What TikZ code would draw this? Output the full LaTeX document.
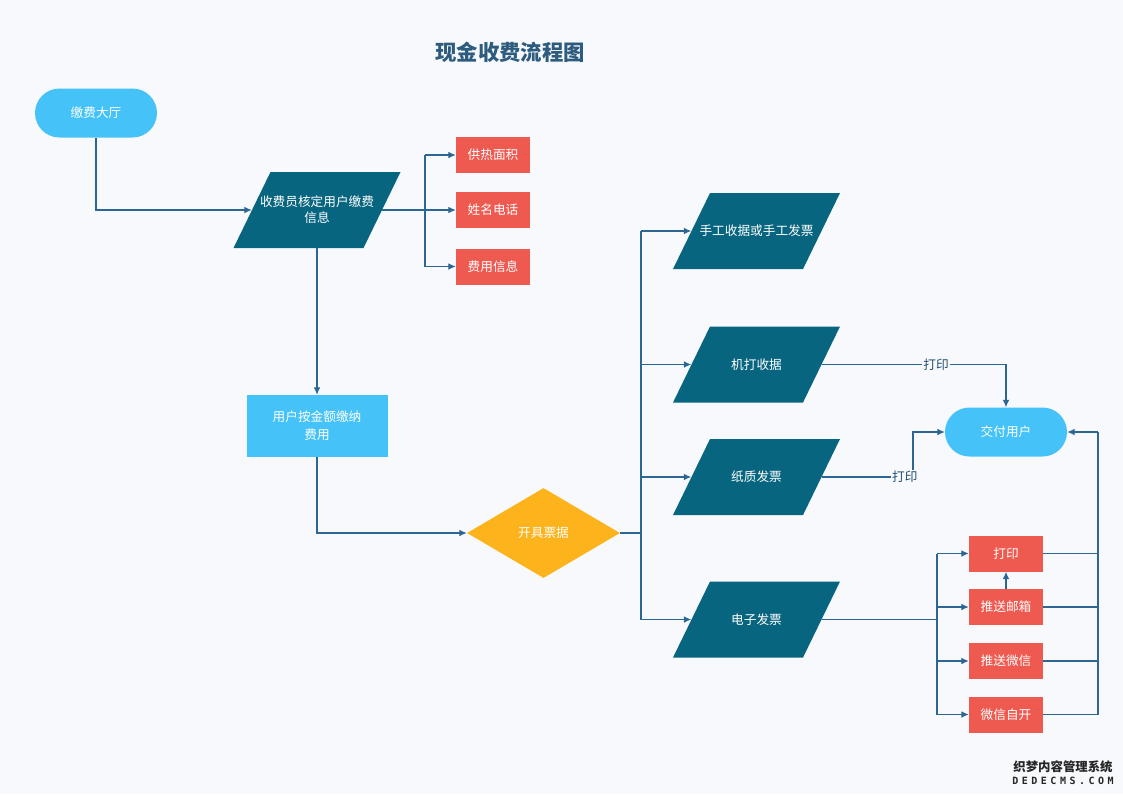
\documentclass[tikz,border=0pt]{standalone}
\usepackage{fontspec}
\setmainfont{Noto Sans CJK SC}
\newfontfamily\wmmono{DejaVu Sans Mono}[LetterSpace=35]
\usetikzlibrary{arrows.meta,shapes.geometric,shapes.misc}
\definecolor{bgcol}{HTML}{F7F9FD}
\definecolor{skyc}{HTML}{45C3F8}
\definecolor{tealc}{HTML}{08657F}
\definecolor{redc}{HTML}{EF5A50}
\definecolor{amberc}{HTML}{FDB31B}
\definecolor{linec}{HTML}{2C6692}
\definecolor{titlec}{HTML}{2D5C7F}
\definecolor{lblc}{HTML}{24506E}
\newcommand\paranode[4]{%
  \fill[tealc] ({#2-46.5},{#3-38}) -- ({#2+83.5},{#3-38}) -- ({#2+46.5},{#3+38}) -- ({#2-83.5},{#3+38}) -- cycle;
  \node[ptext] (#1) at (#2,#3) {#4};}
\begin{document}
\begin{tikzpicture}[x=0.75pt,y=-0.75pt,
  txt/.style={text=white, font=\fontsize{9.5}{12}\selectfont, align=center},
  stadium/.style={rounded rectangle, fill=skyc, minimum width=91.5pt, minimum height=36.75pt, inner sep=0pt, txt},
  redbox/.style={rectangle, fill=redc, minimum width=55.5pt, minimum height=27pt, inner sep=0pt, txt},
  bluebox/.style={rectangle, fill=skyc, minimum width=105.75pt, minimum height=46.5pt, inner sep=0pt, txt, font=\fontsize{9.5}{13.5}\selectfont},
  dia/.style={diamond, fill=amberc, minimum width=114.75pt, minimum height=67.5pt, inner sep=0pt, txt},
  ptext/.style={rectangle, minimum width=97.5pt, minimum height=57pt, inner sep=0pt, txt},
  conn/.style={draw=linec, line width=0.8pt},
  arr/.style={conn, -{Latex[length=5.5pt,width=5pt]}},
  lbl/.style={fill=bgcol, text=lblc, font=\fontsize{9.5}{10}\selectfont, inner sep=1pt}]
\fill[bgcol] (0,0) rectangle (1123,794);
\useasboundingbox (0,0) rectangle (1123,794);

\node[text=titlec, font=\fontsize{16}{18}\selectfont\bfseries] (title) at (510,52) {现金收费流程图};

\node[stadium] (hall) at (96,113) {缴费大厅};
\paranode{p1}{317}{210}{收费员核定用户缴费\\信息}
\node[redbox] (r1) at (493,155) {供热面积};
\node[redbox] (r2) at (493,210) {姓名电话};
\node[redbox] (r3) at (493,266.5) {费用信息};
\node[bluebox] (pay) at (317,426) {用户按金额缴纳\\费用};
\node[dia] (ticket) at (543.5,533) {开具票据};

\paranode{q1}{756.5}{231}{手工收据或手工发票}
\paranode{q2}{756.5}{364.5}{机打收据}
\paranode{q3}{756.5}{477}{纸质发票}
\paranode{q4}{756.5}{619.5}{电子发票}

\node[stadium] (deliver) at (1006,432) {交付用户};
\node[redbox] (e1) at (1006,553.5) {打印};
\node[redbox] (e2) at (1006,607) {推送邮箱};
\node[redbox] (e3) at (1006,661) {推送微信};
\node[redbox] (e4) at (1006,714.5) {微信自开};

\coordinate (b1) at (425,210);
\coordinate (b2) at (641,533);
\coordinate (k3) at (913,477);
\coordinate (b3) at (937,619.5);
\coordinate (b5) at (1098,432);

\draw[arr] (hall.south) |- (p1.west);
\draw[conn] (b1|-r1.west) -- (b1|-r3.west);
\draw[arr] (p1.east) -- (r2.west);
\draw[arr] (b1|-r1.west) -- (r1.west);
\draw[arr] (b1|-r3.west) -- (r3.west);
\draw[arr] (p1.south) -- (pay.north);
\draw[arr] (pay.south) |- (ticket.west);
\draw[conn] (ticket.east) -- (b2);
\draw[conn] (b2|-q1.west) -- (b2|-q4.west);
\draw[arr] (b2|-q1.west) -- (q1.west);
\draw[arr] (b2|-q2.west) -- (q2.west);
\draw[arr] (b2|-q3.west) -- (q3.west);
\draw[arr] (b2|-q4.west) -- (q4.west);
\draw[arr] (q2.east) -| node[lbl, pos=0.31] {打印} (deliver.north);
\draw[arr] (q3.east) -- node[lbl, pos=0.91] {打印} (k3) |- (deliver.west);
\draw[conn] (q4.east) -- (b3);
\draw[conn] (b3|-e1.west) -- (b3|-e4.west);
\draw[arr] (b3|-e1.west) -- (e1.west);
\draw[arr] (b3|-e2.west) -- (e2.west);
\draw[arr] (b3|-e3.west) -- (e3.west);
\draw[arr] (b3|-e4.west) -- (e4.west);
\draw[arr] (e2.north) -- (e1.south);
\draw[conn] (e1.east) -- (e1.east -| b5);
\draw[conn] (e2.east) -- (e2.east -| b5);
\draw[conn] (e3.east) -- (e3.east -| b5);
\draw[conn] (e4.east) -| (b5);
\draw[arr] (b5) -- (deliver.east);

\node[text=black!85, font=\fontsize{9.3}{10}\selectfont\bfseries, inner sep=0pt] (wm1) at (1063,766.5) {织梦内容管理系统};
\node[text=black!85, font=\fontsize{7.5}{8}\wmmono\bfseries, inner sep=0pt] (wm2) at (1063,780.5) {DEDECMS.COM};
\end{tikzpicture}
\end{document}
